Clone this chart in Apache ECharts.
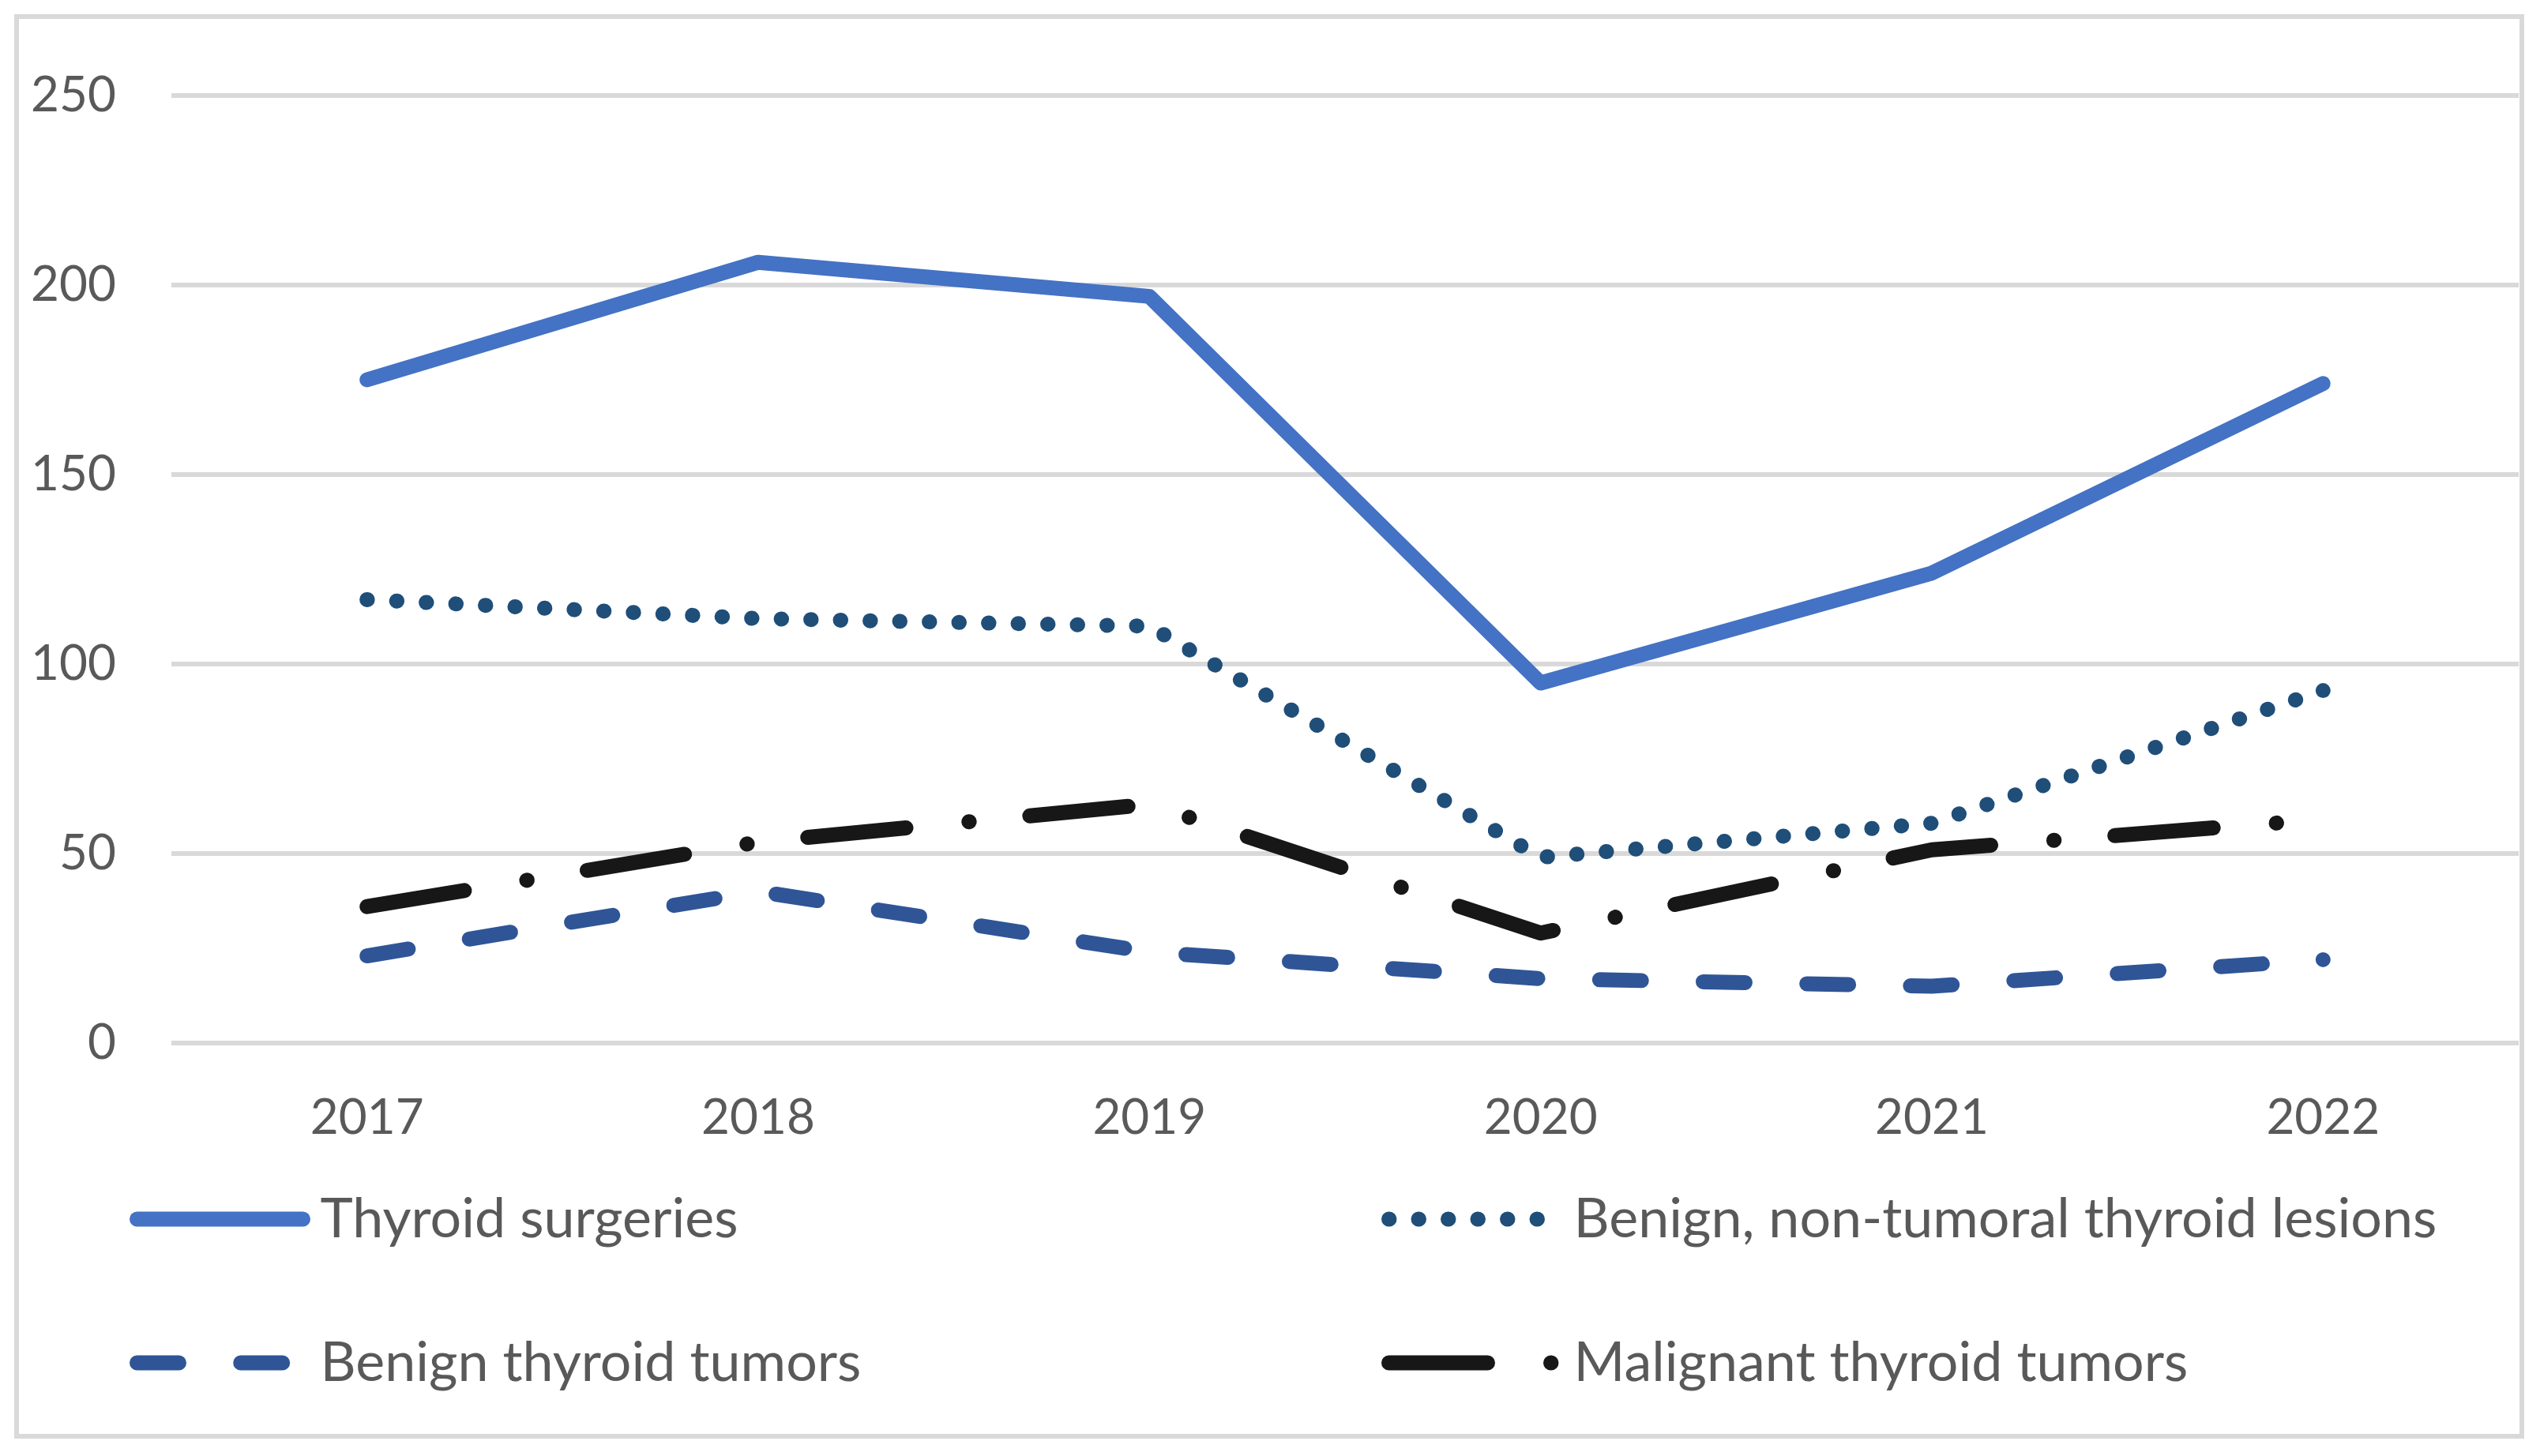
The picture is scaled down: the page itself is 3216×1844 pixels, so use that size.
<!DOCTYPE html>
<html>
<head>
<meta charset="utf-8">
<script src="https://cdn.jsdelivr.net/npm/echarts@6/dist/echarts.min.js"></script>
<style>
html,body{margin:0;padding:0;background:#fff;}
#chart{width:3216px;height:1844px;}
</style>
</head>
<body>
<div id="chart"></div>
<script>
const categories = ['2017', '2018', '2019', '2020', '2021', '2022'];
const thyroidSurgeries = [175, 206, 197, 95, 124, 174];
const benignNonTumoral = [117, 112, 110, 49, 58, 93];
const benignTumors = [23, 40, 24, 17, 15, 22];
const malignantTumors = [36, 53, 63, 29, 51, 59];
const seriesNames = ['Thyroid surgeries', 'Benign, non-tumoral thyroid lesions', 'Benign thyroid tumors', 'Malignant thyroid tumors'];

const FONT = 'Lato';
const TEXT = '#595959';
const LW = 19;

const dashes = {
  solid: 'solid',
  dotted: [0.5, 37.0],
  dashed: [53, 78.2],
  dashDot: [125, 80, 0.5, 77]
};

function mkSeries(name, data, color, type, endDot) {
  const s = {
    name: name, type: 'line', data: data,
    symbol: endDot ? function (v, p) { return p.dataIndex === data.length - 1 ? 'circle' : 'none'; } : 'none',
    symbolSize: LW,
    showSymbol: !!endDot,
    lineStyle: { color: color, width: LW, type: type, cap: 'round', join: 'round' },
    itemStyle: { color: color, borderWidth: 0 },
    emphasis: { disabled: true }
  };
  return s;
}

function mkLegend(name, left, top, itemWidth, pad, type) {
  return {
    data: [name], left: left, top: top, padding: 0, orient: 'horizontal',
    itemWidth: itemWidth, itemHeight: 20, selectedMode: false,
    itemStyle: { color: 'rgba(0,0,0,0)', borderWidth: 0, opacity: 0 },
    lineStyle: { width: LW, type: type, cap: 'round', join: 'round' },
    textStyle: { fontFamily: FONT, fontSize: 70, color: TEXT, lineHeight: 20, padding: [0, 0, 0, pad] }
  };
}

const chart = echarts.init(document.getElementById('chart'), null, { renderer: 'canvas' });
chart.setOption({
  animation: false,
  backgroundColor: '#ffffff',
  graphic: [{
    type: 'rect', silent: true, z: -10,
    shape: { x: 21, y: 21, width: 3172, height: 1798 },
    style: { fill: 'none', stroke: '#D9D9D9', lineWidth: 6 }
  }],
  grid: { left: 217, right: 27, top: 121, bottom: 523, containLabel: false },
  xAxis: {
    type: 'category', data: categories, boundaryGap: true,
    axisLine: { show: false }, axisTick: { show: false },
    axisLabel: { margin: 64, fontFamily: FONT, fontSize: 62, color: TEXT }
  },
  yAxis: {
    type: 'value', min: 0, max: 250, interval: 50,
    axisLine: { show: false }, axisTick: { show: false },
    axisLabel: { margin: 70, fontFamily: FONT, fontSize: 62, color: TEXT },
    splitLine: { lineStyle: { color: '#D9D9D9', width: 6 } }
  },
  legend: [
    mkLegend(seriesNames[0], 164, 1509, 210, 17, dashes.solid),
    mkLegend(seriesNames[1], 1749, 1509, 190, 39, dashes.dotted),
    mkLegend(seriesNames[2], 164, 1691, 186, 41, dashes.dashed),
    mkLegend(seriesNames[3], 1749, 1691, 210, 19, dashes.dashDot)
  ],
  series: [
    mkSeries(seriesNames[0], thyroidSurgeries, '#4472C4', dashes.solid, false),
    mkSeries(seriesNames[1], benignNonTumoral, '#1F4E79', dashes.dotted, true),
    mkSeries(seriesNames[2], benignTumors, '#2F5597', dashes.dashed, true),
    mkSeries(seriesNames[3], malignantTumors, '#171717', dashes.dashDot, false)
  ]
});
</script>
</body>
</html>
